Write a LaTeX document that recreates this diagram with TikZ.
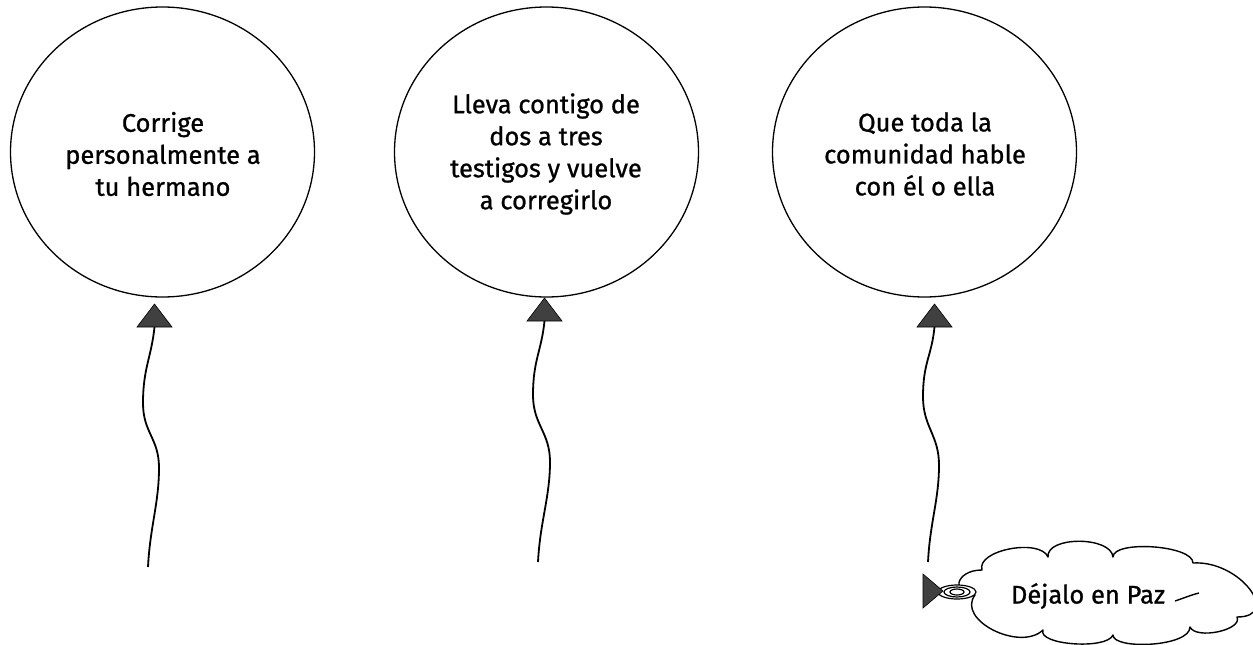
\documentclass[tikz,border=0pt]{standalone}
\usepackage{fontspec}
\setmainfont{Fira Sans}[FakeBold=0.9]
\usetikzlibrary{shapes.geometric}
\tikzset{
  balloon/.style={draw, ellipse, line width=1.3pt, minimum width=304pt, minimum height=290pt, inner sep=0pt},
  btext/.style={align=center, font=\fontsize{25.5}{32}\selectfont},
  knot/.style={draw=black, fill=black!75, line width=0.6pt},
  twine/.style={draw, line width=1.8pt},
  puffline/.style={draw, line width=1.4pt, line join=round},
}
\begin{document}
\begin{tikzpicture}[x=1pt,y=-1pt]
\path[use as bounding box] (0,0) rectangle (1253,645);
% balloons
\node[balloon] (b1) at (162.5,152) {};
\node[balloon] (b2) at (546.5,152) {};
\node[balloon] (b3) at (924.5,152) {};
\node[btext] (t1) at (163,154) {Corrige\\personalmente a\\tu hermano};
\node[btext] (t2) at (546,154) {Lleva contigo de\\dos a tres\\testigos y vuelve\\a corregirlo};
\node[btext] (t3) at (925,154) {Que toda la\\comunidad hable\\con él o ella};
% knots
\coordinate (k1) at (154.5,327);
\coordinate (k2) at (544.5,321);
\coordinate (k3) at (934.5,327);
\foreach \k in {k1,k2,k3}{
  \path[knot] (\k) ++(-17.5,0) -- ++(17.5,-23) -- ++(17.5,23) -- cycle;
}
% string ends
\coordinate (e1) at (148,567);
\coordinate (e2) at (538,562);
\coordinate (e3) at (928,562);
\coordinate (l1) at (143,403); \coordinate (r1) at (159,468);
\coordinate (l2) at (533,395); \coordinate (r2) at (550,462);
\coordinate (l3) at (923,397); \coordinate (r3) at (939,465);
\foreach \i in {1,2,3}{
  \draw[twine] (k\i) .. controls +(-3,30) and +(0,-35) .. (l\i)
      .. controls +(0,30) and +(0,-30) .. (r\i)
      .. controls +(0,35) and +(2,-40) .. (e\i);
}
% cloud
\path[puffline] (982,570)
  .. controls (976,550) and (1040,538) .. (1048,557)
  .. controls (1046,536) and (1111,536) .. (1113,557)
  .. controls (1113,540) and (1193,545) .. (1193,563)
  .. controls (1240,560) and (1282,617) .. (1237,617)
  .. controls (1243,630) and (1196,640) .. (1190,627)
  .. controls (1190,647) and (1113,650) .. (1113,635)
  .. controls (1107,650) and (1037,645) .. (1043,630)
  .. controls (1020,652) and (956,620) .. (975,595)
  .. controls (950,595) and (955,570) .. (982,570) -- cycle;
\path[puffline] (1175,601) .. controls (1184,598) and (1191,595) .. (1199,593);
\node[btext] (ct) at (1088,596) {Déjalo en Paz};
\coordinate (tail) at (957,592);
\path[fill=white] (tail) ellipse [x radius=19, y radius=7];
\draw[line width=1.2pt] (tail) ellipse [x radius=19, y radius=7];
\draw[line width=1.2pt] (tail) ellipse [x radius=13, y radius=5];
\draw[line width=1.2pt] (tail) ellipse [x radius=7, y radius=3];
\path[knot] (923,574) -- (943,591) -- (923,608) -- cycle;
\end{tikzpicture}
\end{document}
